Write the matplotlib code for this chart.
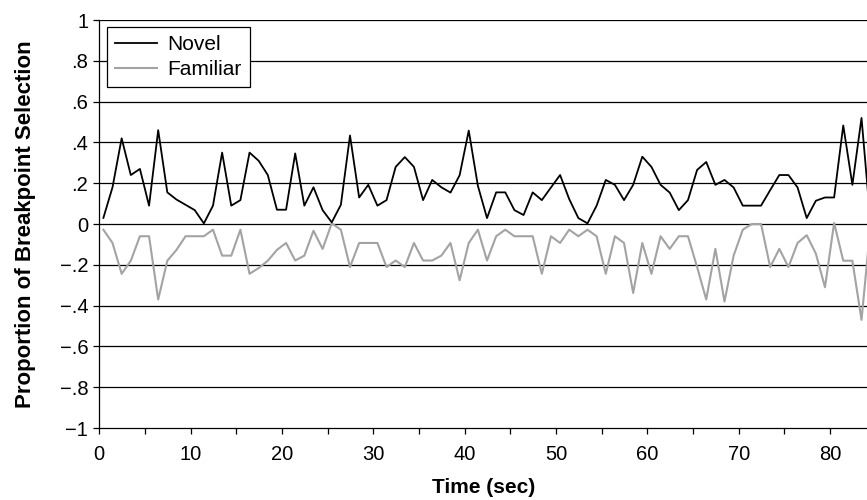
import numpy as np
import matplotlib.pyplot as plt
from matplotlib.ticker import MultipleLocator

plt.rcParams["font.family"] = ["Liberation Sans", "DejaVu Sans"]
plt.rcParams["axes.unicode_minus"] = True

# 每秒一个数据点（时间从约 0.45 秒开始）
novel = [0.03, 0.18, 0.42, 0.24, 0.27, 0.09, 0.46, 0.155, 0.12, 0.094,
         0.068, 0.003, 0.09, 0.35, 0.09, 0.117, 0.35, 0.31, 0.24, 0.07,
         0.07, 0.346, 0.09, 0.18, 0.068, 0.008, 0.094, 0.434, 0.13, 0.192,
         0.09, 0.117, 0.28, 0.328, 0.28, 0.117, 0.216, 0.18, 0.154, 0.239,
         0.458, 0.187, 0.029, 0.155, 0.155, 0.068, 0.044, 0.155, 0.117, 0.179,
         0.24, 0.122, 0.029, 0.003, 0.09, 0.216, 0.192, 0.117, 0.192, 0.33,
         0.28, 0.192, 0.154, 0.068, 0.117, 0.265, 0.304, 0.192, 0.216, 0.179,
         0.09, 0.09, 0.09, 0.166, 0.24, 0.24, 0.179, 0.029, 0.114, 0.13,
         0.13, 0.483, 0.192, 0.52, 0.0]
familiar = [-0.028, -0.093, -0.244, -0.18, -0.06, -0.06, -0.37, -0.18, -0.127, -0.06,
            -0.06, -0.06, -0.028, -0.155, -0.155, -0.028, -0.244, -0.216, -0.18, -0.127,
            -0.093, -0.179, -0.155, -0.033, -0.122, 0.003, -0.028, -0.211, -0.093, -0.093,
            -0.093, -0.211, -0.179, -0.211, -0.093, -0.179, -0.179, -0.155, -0.093, -0.276,
            -0.093, -0.028, -0.179, -0.06, -0.028, -0.06, -0.06, -0.06, -0.244, -0.06,
            -0.093, -0.028, -0.06, -0.028, -0.06, -0.244, -0.06, -0.093, -0.338, -0.093,
            -0.244, -0.06, -0.122, -0.06, -0.06, -0.211, -0.37, -0.122, -0.38, -0.155,
            -0.028, 0.0, 0.0, -0.211, -0.122, -0.211, -0.093, -0.055, -0.145, -0.31,
            0.005, -0.18, -0.18, -0.47, 0.0]
time_sec = np.arange(len(novel)) + 0.45

y_ticks = [-1, -0.8, -0.6, -0.4, -0.2, 0, 0.2, 0.4, 0.6, 0.8, 1]
y_tick_labels = ["\u22121", "\u2212.8", "\u2212.6", "\u2212.4", "\u2212.2", "0",
                 ".2", ".4", ".6", ".8", "1"]


def main():
    fig = plt.figure(figsize=(8.67, 5), dpi=100)
    ax = fig.add_axes([0.1145, 0.144, 0.8855, 0.816])

    # 水平网格线
    for y in y_ticks[1:]:
        ax.axhline(y, color="black", linewidth=0.9, zorder=1)

    ax.plot(time_sec, novel, color="black", linewidth=1.3, label="Novel", zorder=3)
    ax.plot(time_sec, familiar, color="#a3a3a3", linewidth=1.5, label="Familiar", zorder=2)

    ax.set_xlim(0, 84.05)
    ax.set_ylim(-1, 1)
    ax.set_yticks(y_ticks)
    ax.set_yticklabels(y_tick_labels)
    ax.xaxis.set_major_locator(MultipleLocator(10))
    ax.xaxis.set_minor_locator(MultipleLocator(5))
    ax.tick_params(axis="both", direction="out", length=4, width=0.9, labelsize=14.5)
    ax.tick_params(axis="x", which="minor", direction="out", length=4, width=0.9)
    ax.tick_params(axis="x", pad=8)
    ax.tick_params(axis="y", pad=4)

    for side in ["top", "right"]:
        ax.spines[side].set_visible(False)
    ax.spines["left"].set_linewidth(0.9)
    ax.spines["bottom"].set_linewidth(0.9)

    ax.set_xlabel("Time (sec)", fontsize=15, fontweight="bold", labelpad=10)
    ax.set_ylabel("Proportion of Breakpoint Selection", fontsize=16, fontweight="bold", labelpad=17)

    leg = ax.legend(loc="upper left", bbox_to_anchor=(0.010, 0.983), borderaxespad=0,
                    fontsize=15, frameon=True, fancybox=False, edgecolor="black",
                    framealpha=1, handlelength=2.0, handletextpad=0.53,
                    borderpad=0.38, labelspacing=0.3)
    leg.get_frame().set_linewidth(0.9)

    plt.savefig("out.png", dpi=100)


if __name__ == '__main__':
    main()
